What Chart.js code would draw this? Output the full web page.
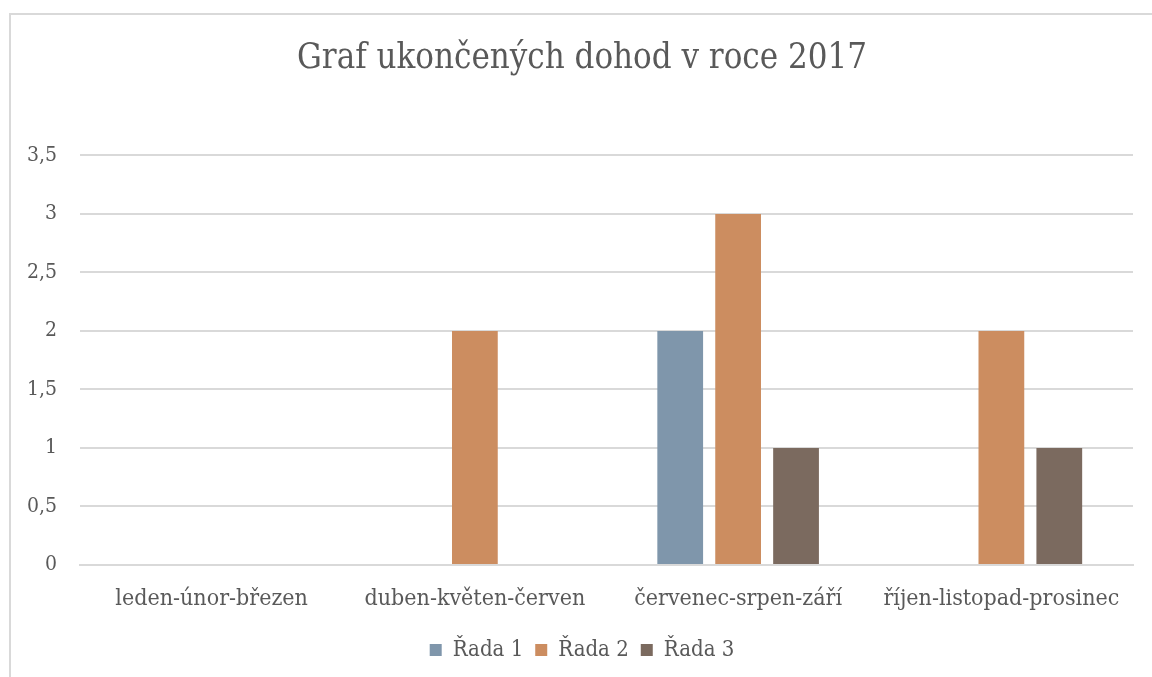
<!DOCTYPE html>
<html>
<head>
<meta charset="utf-8">
<script src="https://cdn.jsdelivr.net/npm/chart.js@4/dist/chart.umd.min.js"></script>
<style>
  html, body { margin: 0; padding: 0; background: #fff; overflow: hidden; }
  #frame {
    position: absolute; left: 9px; top: 13px; width: 1200px; height: 700px;
    border-left: 2px solid #d9d9d9; border-top: 2px solid #d9d9d9;
  }
  #wrap { position: absolute; left: 0; top: 0; width: 1164px; height: 677px; }
</style>
</head>
<body>
<div id="frame"></div>
<div id="wrap"><canvas id="chart"></canvas></div>
<script>
const categories = ["leden-únor-březen", "duben-květen-červen", "červenec-srpen-září", "říjen-listopad-prosinec"];
const rada1 = [0, 0, 2, 0];
const rada2 = [0, 2, 3, 2];
const rada3 = [0, 0, 1, 1];
const seriesNames = ["Řada 1", "Řada 2", "Řada 3"];
const seriesColors = ["#7f96ab", "#cc8d60", "#7b6a5f"];

const font = "'DejaVu Serif Condensed', 'DejaVu Serif', serif";
const textColor = "#595959";

new Chart(document.getElementById("chart"), {
  type: "bar",
  data: {
    labels: categories,
    datasets: [rada1, rada2, rada3].map((d, i) => ({
      label: seriesNames[i],
      data: d,
      backgroundColor: seriesColors[i],
      borderWidth: 0,
      categoryPercentage: 0.66,
      barPercentage: 0.79,
    })),
  },
  options: {
    responsive: true,
    maintainAspectRatio: false,
    animation: false,
    layout: { padding: { left: 0, right: 0, top: 0, bottom: 6 } },
    plugins: {
      title: {
        display: true,
        text: "Graf ukončených dohod v roce 2017",
        color: textColor,
        font: { family: font, size: 34.5, weight: "normal" },
        padding: { top: 38, bottom: 76 },
      },
      legend: {
        position: "bottom",
        labels: {
          color: textColor,
          font: { family: font, size: 22 },
          boxWidth: 12,
          boxHeight: 12,
          padding: 12,
        },
      },
      tooltip: { enabled: false },
    },
    scales: {
      x: {
        grid: { display: false, drawTicks: false },
        border: { display: true, color: "#d9d9d9", width: 2 },
        ticks: { color: textColor, font: { family: font, size: 23 }, padding: 20, maxRotation: 0 },
        afterFit: (s) => { s.height = 62; },
      },
      y: {
        min: 0,
        max: 3.5,
        grid: { color: "#d9d9d9", lineWidth: 2, drawTicks: false },
        border: { display: false },
        ticks: {
          stepSize: 0.5,
          color: textColor,
          font: { family: font, size: 21 },
          padding: 23,
          callback: (v) => String(v).replace(".", ","),
        },
        afterFit: (s) => { s.width = 80; },
      },
      // empty right-hand space so the title and legend sit where Excel put them
      spacer: {
        type: "linear",
        position: "right",
        grid: { display: false, drawTicks: false },
        border: { display: false },
        ticks: { display: false },
        afterFit: (s) => { s.width = 31; },
      },
    },
  },
});
</script>
</body>
</html>
